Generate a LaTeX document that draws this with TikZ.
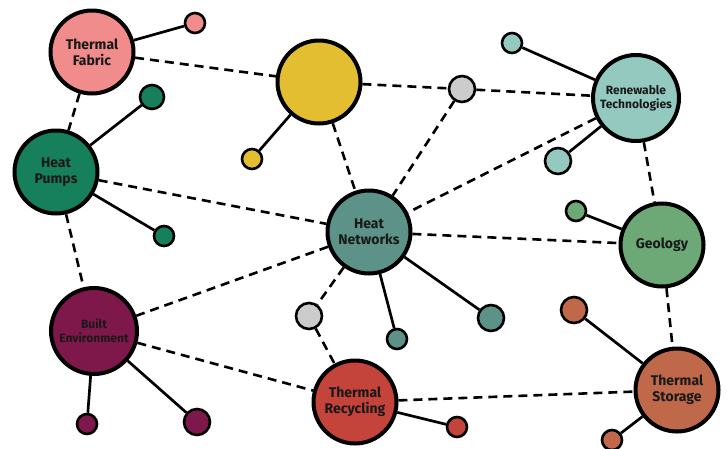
\documentclass[tikz,border=0pt]{standalone}
\usepackage{fontspec}
\setsansfont{Fira Sans}
\usetikzlibrary{positioning}
\definecolor{cfabric}{HTML}{F08C8C}
\definecolor{cyellow}{HTML}{E2BE30}
\definecolor{cpumps}{HTML}{167F5B}
\definecolor{cnetwork}{HTML}{5D9288}
\definecolor{cgrey}{HTML}{CCCCCC}
\definecolor{crenew}{HTML}{93C9BF}
\definecolor{cgeo}{HTML}{6CA976}
\definecolor{cstore}{HTML}{C0684A}
\definecolor{crecyc}{HTML}{C4433A}
\definecolor{cbuilt}{HTML}{7E184A}
\tikzset{
  hub/.style  = {circle, draw=black, line width=4pt, minimum size=83pt,
                 inner sep=0pt, align=center, text=black!90,
                 font=\sffamily\bfseries\fontsize{14}{16}\selectfont},
  small/.style = {font=\sffamily\bfseries\fontsize{12}{14}\selectfont},
  dot/.style  = {circle, draw=black, line width=2.6pt, inner sep=0pt},
  link/.style = {draw=black, line width=2.6pt, dash pattern=on 9pt off 6pt},
  stem/.style = {draw=black, line width=2.7pt},
}
\begin{document}
\begin{tikzpicture}[x=1pt,y=-1pt]
  \useasboundingbox (0,0) rectangle (727,448);
  % main circles
  \node[hub, fill=cfabric] (fabric) at (92,52) {Thermal\\Fabric};
  \node[hub, fill=cyellow] (yellow) at (319,82) {};
  \node[hub, fill=cpumps] (pumps) at (56,172) {Heat\\Pumps};
  \node[hub, fill=cnetwork] (network) at (369,232) {Heat\\Networks};
  \node[hub, small, fill=crenew, minimum size=86pt] (renew) at (636,98) {Renewable\\Technologies};
  \node[hub, fill=cgeo] (geo) at (662,245) {Geology};
  \node[hub, fill=cstore] (store) at (677,390) {Thermal\\Storage};
  \node[hub, fill=crecyc] (recyc) at (355,402) {Thermal\\Recycling};
  \node[hub, small, fill=cbuilt, minimum size=86pt] (built) at (94,331) {Built\\Environment};
  \node[dot, fill=cgrey, minimum size=26pt] (greyA) at (462,89) {};
  \node[dot, fill=cgrey, minimum size=26pt] (greyB) at (309,316) {};
  % satellites
  \foreach \n/\x/\y/\c/\s in {sfab/195/23/cfabric/20, syel/252/159/cyellow/20,
      spumpA/152/97/cpumps/24, spumpB/164/236/cpumps/20,
      srenA/512/43/crenew/20, srenB/558/161/crenew/26,
      sgeo/576/211/cgeo/20, snetA/397/339/cnetwork/20, snetB/491/318/cnetwork/26,
      sstoA/574/310/cstore/26, sstoB/612/440/cstore/20, srec/457/427/crecyc/20,
      sbuiA/87/424/cbuilt/20, sbuiB/197/422/cbuilt/26}{
    \node[dot, fill=\c, minimum size=\s pt] (\n) at (\x,\y) {};
  }
  \foreach \a/\b in {fabric/sfab, yellow/syel, pumps/spumpA, pumps/spumpB,
      renew/srenA, renew/srenB, geo/sgeo, network/snetA, network/snetB,
      store/sstoA, store/sstoB, recyc/srec, built/sbuiA, built/sbuiB}{
    \draw[stem] (\a) -- (\b);
  }
  % dashed links
  \foreach \a/\b in {fabric/yellow, fabric/pumps, yellow/greyA, yellow/network,
      greyA/renew, greyA/network, renew/network, renew/geo, pumps/network,
      pumps/built, network/geo, network/built, network/greyB, greyB/recyc,
      built/recyc, recyc/store, geo/store}{
    \draw[link] (\a) -- (\b);
  }
\end{tikzpicture}
\end{document}
